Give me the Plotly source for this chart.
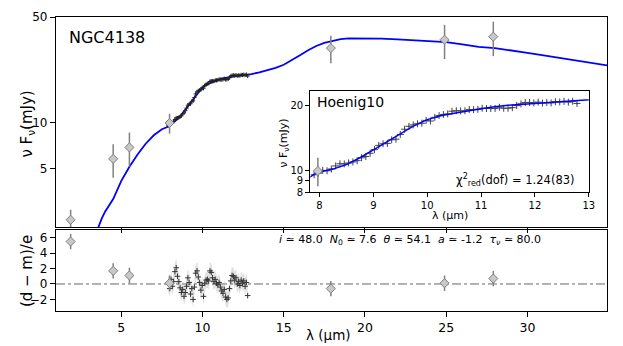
import plotly.graph_objects as go

# photometry
phot_wl = [1.88, 4.5, 5.5, 7.97, 17.9, 24.9, 27.9]
phot_flux = [2.30, 5.8, 6.9, 10.0, 31.2, 35.4, 37.1]
phot_err = [0.38, 1.45, 1.75, 1.5, 6.4, 9.0, 9.5]
phot_resid = [5.5, 1.7, 1.1, 0.1, -0.6, 0.1, 0.7]

# spectrum (Hoenig10)
spec_wl = [7.90, 7.98, 8.06, 8.14, 8.22, 8.30, 8.38, 8.46, 8.54, 8.62, 8.70, 8.78, 8.86, 8.94,
           9.02, 9.10, 9.18, 9.26, 9.34, 9.42, 9.50, 9.58, 9.66, 9.74, 9.82, 9.90, 9.98,
           10.06, 10.14, 10.22, 10.30, 10.38, 10.46, 10.54, 10.62, 10.70, 10.78, 10.86, 10.94,
           11.02, 11.10, 11.18, 11.26, 11.34, 11.42, 11.50, 11.58, 11.66, 11.74, 11.82, 11.90,
           11.98, 12.06, 12.14, 12.22, 12.30, 12.38, 12.46, 12.54, 12.62, 12.70, 12.78]
spec_flux = [9.61, 9.76, 10.06, 10.02, 10.21, 10.55, 10.79, 10.78, 10.88, 11.00, 11.15, 11.50,
             11.65, 12.06, 12.53, 13.10, 13.33, 13.38, 13.90, 13.99, 14.71, 15.54, 16.03, 16.27,
             16.46, 16.56, 17.06, 16.95, 17.62, 17.95, 18.16, 18.27, 18.79, 18.90, 18.86, 18.88,
             19.12, 19.11, 19.17, 19.39, 19.34, 19.33, 19.36, 19.60, 19.39, 19.40, 19.52, 19.95,
             20.31, 20.59, 20.62, 20.53, 20.69, 20.48, 20.62, 20.52, 20.78, 20.71, 20.84, 20.68,
             20.88, 20.40]
spec_resid = [0.1, -0.6, 0.6, -0.3, 0.3, 1.6, 2.1, 1.0, 0.3, -0.5, -1.1, -0.7, -1.6, -1.1,
              -0.3, 0.8, 0.2, -1.3, -0.6, -2.0, -0.4, 1.4, 1.7, 0.9, 0.2, -0.8, -0.2,
              -1.6, 0.1, 0.5, 0.6, 0.4, 1.7, 1.5, 0.8, 0.3, 0.6, 0.1, -0.1,
              0.2, -0.4, -0.9, -1.2, -0.7, -1.7, -2.0, -1.8, -0.6, 0.4, 1.1, 1.0,
              0.5, 0.8, 0.0, 0.3, -0.2, 0.5, 0.1, 0.4, -0.3, 0.2, -1.5]

# best-fit model
model_wl = [3.4, 3.6, 3.8, 4.0, 4.5, 5.0, 5.5, 6.0, 6.5, 7.0, 7.5, 7.83, 7.9, 8.0, 8.25, 8.5,
            8.75, 9.0, 9.25, 9.5, 9.75, 10.0, 10.25, 10.5, 10.75, 11.0, 11.25, 11.5, 12.0,
            12.5, 13.0, 13.5, 14.0, 14.5, 15.0, 15.5, 16.0, 16.5, 17.0, 17.5, 18.0, 18.5,
            19.0, 20.0, 21.0, 22.0, 23.0, 24.0, 25.0, 26.0, 27.0, 28.0, 29.0, 30.0, 31.0,
            32.0, 33.0, 34.0, 35.0]
model_flux = [1.75, 2.07, 2.35, 2.6, 3.15, 4.15, 5.15, 6.2, 7.3, 8.3, 9.1, 9.4, 9.65, 9.9,
              10.2, 10.7, 11.5, 12.5, 13.6, 14.8, 16.1, 17.2, 17.9, 18.4, 18.9, 19.3, 19.7,
              20.0, 20.4, 20.7, 21.0, 21.6, 22.3, 23.1, 24.2, 25.9, 28.0, 30.2, 32.2, 33.8,
              34.9, 35.7, 36.1, 36.2, 36.0, 35.6, 35.1, 34.6, 34.1, 33.0, 31.8, 31.2, 30.2,
              29.0, 27.9, 26.9, 25.9, 24.9, 23.9]

FONT = "DejaVu Sans"
BLUE = "#0000ff"
GREY = "#808080"

band_hi = [r + 1.1 for r in spec_resid]
band_lo = [r - 1.1 for r in spec_resid]

diamond = dict(symbol="diamond", size=7, color="#c8c8c8", line=dict(color=GREY, width=1))

fig = go.Figure()

# top panel
fig.add_trace(go.Scatter(x=model_wl, y=model_flux, mode="lines", line=dict(color=BLUE, width=1.8),
                         xaxis="x", yaxis="y"))
fig.add_trace(go.Scatter(x=spec_wl, y=spec_flux, mode="markers",
                         marker=dict(symbol="cross-thin", size=3, line=dict(color="#222", width=1)),
                         error_y=dict(type="percent", value=1.0, color="#777", thickness=1, width=0),
                         xaxis="x", yaxis="y"))
fig.add_trace(go.Scatter(x=phot_wl, y=phot_flux, mode="markers", marker=diamond,
                         error_y=dict(type="data", array=phot_err, color=GREY, thickness=1.5, width=0),
                         xaxis="x", yaxis="y"))

# residual panel
fig.add_trace(go.Scatter(x=spec_wl, y=band_hi, mode="lines", line=dict(width=0, shape="spline"),
                         xaxis="x2", yaxis="y2"))
fig.add_trace(go.Scatter(x=spec_wl, y=band_lo, mode="lines", line=dict(width=0, shape="spline"),
                         fill="tonexty", fillcolor="rgba(160,160,160,0.3)", xaxis="x2", yaxis="y2"))
fig.add_trace(go.Scatter(x=spec_wl, y=spec_resid, mode="markers",
                         marker=dict(symbol="cross-thin", size=4, line=dict(color="#333", width=1)),
                         xaxis="x2", yaxis="y2"))
fig.add_trace(go.Scatter(x=phot_wl, y=phot_resid, mode="markers", marker=diamond,
                         error_y=dict(type="constant", value=1, color=GREY, thickness=1.5, width=0),
                         xaxis="x2", yaxis="y2"))

# inset
fig.add_trace(go.Scatter(x=spec_wl, y=spec_flux, mode="markers",
                         marker=dict(symbol="cross-thin", size=5, line=dict(color="#444", width=1)),
                         error_y=dict(type="percent", value=1.5, color="#aaa", thickness=1, width=0),
                         xaxis="x3", yaxis="y3"))
fig.add_trace(go.Scatter(x=model_wl, y=model_flux, mode="lines", line=dict(color=BLUE, width=1.5),
                         xaxis="x3", yaxis="y3"))
fig.add_trace(go.Scatter(x=phot_wl, y=phot_flux, mode="markers", marker=diamond,
                         error_y=dict(type="data", array=phot_err, color=GREY, thickness=1.5, width=0),
                         xaxis="x3", yaxis="y3"))

ax = dict(showline=True, linecolor="black", linewidth=1.2, mirror=True, showgrid=False,
          zeroline=False, ticks="outside", ticklen=5, tickcolor="black",
          tickfont=dict(family=FONT, size=12, color="black"))

xticks = [5, 10, 15, 20, 25, 30]
fig.update_layout(
    width=623, height=346, showlegend=False,
    margin=dict(l=56, r=13, t=10, b=35),
    paper_bgcolor="white", plot_bgcolor="white",
    font=dict(family=FONT, color="black"),
    xaxis=dict(ax, domain=[0, 1], range=[0.98, 34.9], tickvals=xticks, showticklabels=False,
               anchor="y"),
    yaxis=dict(ax, domain=[0.2857, 1], type="log", range=[0.314, 1.699],
               tickvals=[5, 10, 50], ticktext=["5", "10", "50"], anchor="x"),
    xaxis2=dict(ax, domain=[0, 1], range=[0.98, 34.9], tickvals=xticks, anchor="y2",
                tickfont=dict(family=FONT, size=12.5, color="black")),
    yaxis2=dict(ax, domain=[0, 0.2757], range=[-3.5, 7.0], tickvals=[-2, 0, 2, 4, 6],
                ticktext=["\u22122", "0", "2", "4", "6"], anchor="x2"),
    xaxis3=dict(ax, domain=[0.4616, 0.967], range=[7.83, 13], tickvals=[8, 9, 10, 11, 12, 13],
                ticklen=4, tickfont=dict(family=FONT, size=10, color="black"), anchor="y3"),
    yaxis3=dict(ax, domain=[0.4043, 0.7485], type="log", range=[0.903, 1.367],
                tickvals=[8, 9, 10, 20], ticktext=["8", "9", "10", "20"], ticklen=4,
                tickfont=dict(family=FONT, size=10, color="black"), anchor="x3"),
    shapes=[dict(type="line", xref="x2 domain", yref="y2", x0=0, x1=1, y0=0, y1=0,
                 line=dict(color="#666", width=1, dash="dashdot"), layer="below")],
)

sp = "\u00a0\u00a0"
params = ("<i>i</i> \u2243 48.0" + sp + "<i>N</i><sub>0</sub> \u2243 7.6" + sp +
          "<i>\u03b8</i> \u2243 54.1" + sp + "<i>a</i> \u2243 -1.2" + sp +
          "<i>\u03c4<sub>\u03bd</sub></i> \u2243 80.0")

def px_ann(text, x, y, size, xanchor="center", angle=0):
    fig.add_annotation(text=text, x=(x - 56) / 554, y=(311 - y) / 301, xref="paper", yref="paper",
                       xanchor=xanchor, yanchor="middle", showarrow=False, textangle=angle,
                       font=dict(family=FONT, size=size, color="black"))

px_ann("NGC4138", 67, 31, 16, "left")
px_ann("Hoenig10", 316, 97, 14, "left")
px_ann("\u03c7<sup>2</sup><sub>red</sub>(dof) = 1.24(83)", 580, 177, 11.5, "right")
px_ann(params, 278, 238, 11, "left")
px_ann("\u03bd F<sub>\u03bd</sub>(mJy)", 27, 120, 15, angle=-90)
px_ann("(d \u2212 m)/e", 27, 270, 15, angle=-90)
px_ann("\u03bb (\u03bcm)", 330, 336, 13.5)
px_ann("\u03bd F<sub>\u03bd</sub>(mJy)", 285, 139, 11, angle=-90)
px_ann("\u03bb (\u03bcm)", 452, 213, 11)

fig.write_html("out.html", config={"displayModeBar": False},
               post_script="document.body.style.margin='0';")
